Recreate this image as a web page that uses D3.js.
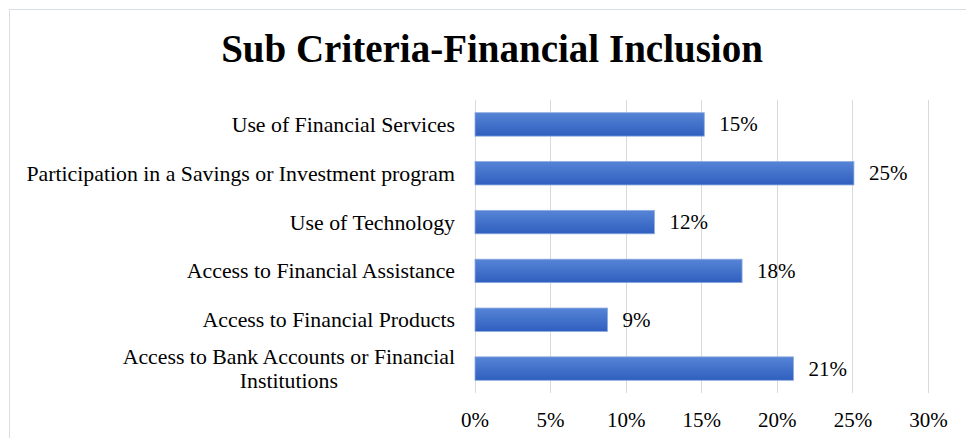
<!DOCTYPE html>
<html><head><meta charset="utf-8">
<script src="https://cdn.jsdelivr.net/npm/d3@7"></script>
<style>body{margin:0;background:#fff}</style></head>
<body><svg id="c" width="966" height="438"></svg>
<script>
// Sub-criteria shares for financial inclusion, top to bottom
const categories = [
  "Use of Financial Services",
  "Participation in a Savings or Investment program",
  "Use of Technology",
  "Access to Financial Assistance",
  "Access to Financial Products",
  "Access to Bank Accounts or Financial Institutions"
];
const values = [0.152, 0.251, 0.119, 0.177, 0.088, 0.211];
const xTicks = [0, 0.05, 0.10, 0.15, 0.20, 0.25, 0.30];
const chartTitle = "Sub Criteria-Financial Inclusion";

const W = 966, H = 438;
const serif = "'Liberation Serif','Times New Roman',Times,serif";
const svg = d3.select("#c");

svg.append("rect").attr("width", W).attr("height", H).attr("fill", "#fff");
// chart area frame
svg.append("rect")
  .attr("x", 9.5).attr("y", 9.5).attr("width", W).attr("height", H)
  .attr("fill", "none").attr("stroke", "#d9dde6").attr("stroke-width", 1);

svg.append("text")
  .attr("x", 492).attr("y", 62).attr("text-anchor", "middle")
  .style("font-family", serif).style("font-weight", "bold").style("font-size", "39px")
  .attr("fill", "#000").text(chartTitle);

const plot = {left: 474.5, right: 928, top: 100, bottom: 393};
const x = d3.scaleLinear().domain([0, 0.30]).range([plot.left, plot.right]);
const y = d3.scaleBand().domain(categories).range([plot.top, plot.bottom])
  .paddingInner(0.52).paddingOuter(0.26);

// vertical gridlines
svg.append("g").selectAll("line").data(xTicks).join("line")
  .attr("x1", d => Math.round(x(d)) + 0.5).attr("x2", d => Math.round(x(d)) + 0.5)
  .attr("y1", plot.top).attr("y2", plot.bottom)
  .attr("stroke", "#d9d9d9").attr("stroke-width", 1);

// x axis tick labels
const xAxis = d3.axisBottom(x).tickValues(xTicks).tickFormat(d3.format(".0%")).tickSize(0).tickPadding(0);
const gx = svg.append("g").attr("transform", `translate(0,${plot.bottom})`).call(xAxis);
gx.select(".domain").remove();
gx.selectAll("text").attr("y", 34).attr("dy", null)
  .style("font-family", serif).style("font-size", "21px").attr("fill", "#000");

// bar fill gradient
const grad = svg.append("defs").append("linearGradient")
  .attr("id", "barGrad").attr("x1", 0).attr("y1", 0).attr("x2", 0).attr("y2", 1);
grad.append("stop").attr("offset", "0%").attr("stop-color", "#5684d6");
grad.append("stop").attr("offset", "100%").attr("stop-color", "#2f5fbf");

const rows = categories.map((c, i) => ({cat: c, v: values[i]}));

svg.append("g").selectAll("rect").data(rows).join("rect")
  .attr("x", x(0) + 0.5).attr("y", d => y(d.cat))
  .attr("width", d => x(d.v) - x(0) - 0.5).attr("height", y.bandwidth())
  .attr("fill", "url(#barGrad)").attr("stroke", "#8eaadf").attr("stroke-width", 0.8);

// value labels
svg.append("g").selectAll("text").data(rows).join("text")
  .attr("x", d => x(d.v) + 15).attr("y", d => y(d.cat) + y.bandwidth() / 2 + 7)
  .style("font-family", serif).style("font-size", "21px").attr("fill", "#000")
  .text(d => d3.format(".0%")(d.v));

// category labels, wrapped to a max width and centred line-by-line
const maxW = 432, lineH = 24;
const labG = svg.append("g");
rows.forEach(d => {
  const t = labG.append("text")
    .style("font-family", serif).style("font-size", "21.8px").attr("fill", "#000");
  const words = d.cat.split(" ");
  let lines = [], cur = [];
  const probe = t.append("tspan");
  words.forEach(w => {
    probe.text([...cur, w].join(" "));
    if (probe.node().getComputedTextLength() > maxW && cur.length) { lines.push(cur.join(" ")); cur = [w]; }
    else cur.push(w);
  });
  lines.push(cur.join(" "));
  probe.remove();
  const widths = lines.map(l => { const s = t.append("tspan").text(l); const w = s.node().getComputedTextLength(); s.remove(); return w; });
  const blockW = d3.max(widths);
  const right = 455;
  const cy = y(d.cat) + y.bandwidth() / 2;
  const firstBase = cy + 7.5 - (lines.length - 1) * lineH / 2;
  lines.forEach((l, i) => {
    t.append("tspan").attr("x", right - blockW / 2).attr("y", firstBase + i * lineH)
      .attr("text-anchor", "middle").text(l);
  });
});
</script></body></html>
